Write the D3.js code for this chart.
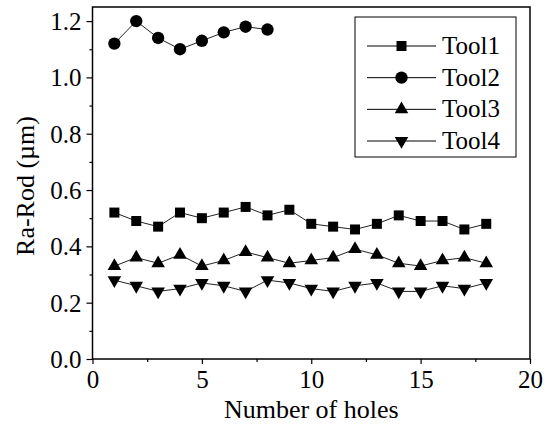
<!DOCTYPE html>
<html>
<head>
<meta charset="utf-8">
<script src="https://cdn.jsdelivr.net/npm/d3@7"></script>
<style>
  html, body { margin: 0; padding: 0; background: #fff; }
  svg { display: block; }
  svg text { font-family: "Liberation Serif", "Times New Roman", Times, serif; fill: #000; }
</style>
</head>
<body>
<svg id="chart" width="548" height="434"></svg>
<script>
// Surface roughness of the rod versus hole number, per tool
const holes = d3.range(1, 19);
const tool1 = [0.52, 0.49, 0.47, 0.52, 0.50, 0.52, 0.54, 0.51, 0.53, 0.48, 0.47, 0.46, 0.48, 0.51, 0.49, 0.49, 0.46, 0.48];
const tool2 = [1.12, 1.20, 1.14, 1.10, 1.13, 1.16, 1.18, 1.17];
const tool3 = [0.33, 0.36, 0.34, 0.37, 0.33, 0.35, 0.38, 0.36, 0.34, 0.35, 0.36, 0.39, 0.37, 0.34, 0.33, 0.35, 0.36, 0.34];
const tool4 = [0.28, 0.26, 0.24, 0.25, 0.27, 0.26, 0.24, 0.28, 0.27, 0.25, 0.24, 0.26, 0.27, 0.24, 0.24, 0.26, 0.25, 0.27];
const seriesNames = ["Tool1", "Tool2", "Tool3", "Tool4"];
const xTicks = [0, 5, 10, 15, 20];
const yTicks = [0.0, 0.2, 0.4, 0.6, 0.8, 1.0, 1.2];

const serif = '"Liberation Serif", "Times New Roman", Times, serif';

const series = [
  { name: seriesNames[0], values: tool1, symbol: d3.symbolSquare, size: 100 },
  { name: seriesNames[1], values: tool2, symbol: d3.symbolCircle, size: 120 },
  { name: seriesNames[2], values: tool3, symbol: d3.symbolTriangle, size: 80 },
  { name: seriesNames[3], values: tool4, symbol: d3.symbolTriangle, size: 80, flip: true }
];

const svg = d3.select("#chart").attr("font-family", serif);
const m = { left: 92.5, right: 530, top: 7, bottom: 359 };

const x = d3.scaleLinear().domain([0, 20]).range([m.left, m.right]);
const y = d3.scaleLinear().domain([0, 1.25]).range([m.bottom, m.top]);

// frame
svg.append("rect")
  .attr("x", m.left).attr("y", m.top)
  .attr("width", m.right - m.left).attr("height", m.bottom - m.top)
  .attr("fill", "none").attr("stroke", "#000").attr("stroke-width", 1.5);

// minor ticks
const xMinor = d3.range(2.5, 20, 5);
const yMinor = d3.range(0.1, 1.25, 0.2);
svg.append("g").attr("transform", `translate(0,${m.bottom})`)
  .call(d3.axisBottom(x).tickValues(xMinor).tickSize(3).tickFormat(""))
  .call(g => g.select(".domain").remove())
  .call(g => g.selectAll("line").attr("stroke-width", 1.2));
svg.append("g").attr("transform", `translate(${m.left},0)`)
  .call(d3.axisLeft(y).tickValues(yMinor).tickSize(3).tickFormat(""))
  .call(g => g.select(".domain").remove())
  .call(g => g.selectAll("line").attr("stroke-width", 1.2));

// major ticks and labels
const xAxis = svg.append("g").attr("transform", `translate(0,${m.bottom})`)
  .call(d3.axisBottom(x).tickValues(xTicks).tickSize(5).tickPadding(6).tickFormat(d3.format("d")));
xAxis.attr("font-family", serif).attr("font-size", 25);
xAxis.select(".domain").remove();
xAxis.selectAll("line").attr("stroke-width", 1.2);
xAxis.selectAll("text").attr("fill", "#000");

const yAxis = svg.append("g").attr("transform", `translate(${m.left},0)`)
  .call(d3.axisLeft(y).tickValues(yTicks).tickSize(6).tickPadding(5).tickFormat(d3.format(".1f")));
yAxis.attr("font-family", serif).attr("font-size", 25);
yAxis.select(".domain").remove();
yAxis.selectAll("line").attr("stroke-width", 1.2);
yAxis.selectAll("text").attr("fill", "#000").attr("dy", "0.34em");

// axis titles
svg.append("text")
  .attr("x", (m.left + m.right) / 2).attr("y", 418)
  .attr("text-anchor", "middle").attr("font-size", 26)
  .text("Number of holes");
svg.append("text")
  .attr("transform", `translate(33.5,186) rotate(-90)`)
  .attr("text-anchor", "middle").attr("font-size", 26)
  .text("Ra-Rod (µm)");

// series lines and markers
const line = d3.line().x(d => x(d.h)).y(d => y(d.v));
series.forEach(s => {
  const pts = s.values.map((v, i) => ({ h: holes[i], v }));
  svg.append("path").datum(pts)
    .attr("d", line).attr("fill", "none")
    .attr("stroke", "#222").attr("stroke-width", 1);
  svg.append("g").selectAll("path").data(pts).join("path")
    .attr("d", d3.symbol().type(s.symbol).size(s.size))
    .attr("transform", d => `translate(${x(d.h)},${y(d.v)})${s.flip ? " rotate(180)" : ""}`)
    .attr("fill", "#000");
});

// legend
const lg = svg.append("g");
lg.append("rect")
  .attr("x", 355).attr("y", 17).attr("width", 161).attr("height", 140)
  .attr("fill", "#fff").attr("stroke", "#000").attr("stroke-width", 1);
const rowY = d3.scalePoint().domain(seriesNames).range([46, 141]);
series.forEach(s => {
  const yy = rowY(s.name);
  lg.append("line").attr("x1", 367).attr("x2", 436).attr("y1", yy).attr("y2", yy)
    .attr("stroke", "#000").attr("stroke-width", 1);
  lg.append("path")
    .attr("d", d3.symbol().type(s.symbol).size(s.size))
    .attr("transform", `translate(401.5,${yy})${s.flip ? " rotate(180)" : ""}`)
    .attr("fill", "#000");
  lg.append("text").attr("x", 442).attr("y", yy + 8)
    .attr("font-size", 25).text(s.name);
});
</script>
</body>
</html>
